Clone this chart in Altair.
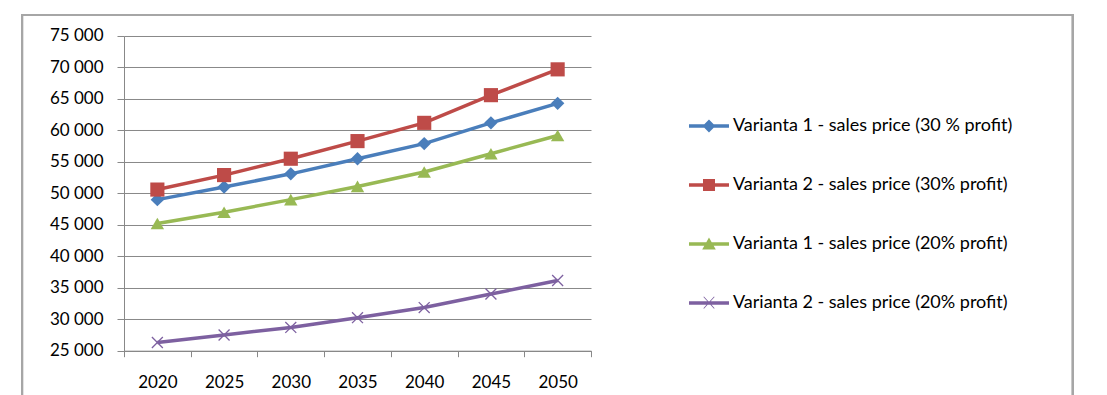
import altair as alt
import pandas as pd

years = ["2020", "2025", "2030", "2035", "2040", "2045", "2050"]
series_names = [
    "Varianta 1 - sales price (30 % profit)",
    "Varianta 2 - sales price (30% profit)",
    "Varianta 1 - sales price (20% profit)",
    "Varianta 2 - sales price (20% profit)",
]
v1_30 = [49000, 51000, 53100, 55500, 57900, 61200, 64300]
v2_30 = [50600, 52900, 55500, 58300, 61200, 65600, 69700]
v1_20 = [45200, 47000, 49000, 51100, 53400, 56300, 59200]
v2_20 = [26300, 27500, 28700, 30250, 31850, 34000, 36150]
colors = ["#4A7EBB", "#BE4B48", "#98B954", "#7D60A0"]

all_vals = [v1_30, v2_30, v1_20, v2_20]
rows = []
for name, vals in zip(series_names, all_vals):
    for y, v in zip(years, vals):
        rows.append({"series": name, "year": y, "value": v})
df = pd.DataFrame(rows)

FONT = "Lato"
color_scale = alt.Scale(domain=series_names, range=colors)

x_enc = alt.X("year:O", scale=alt.Scale(type="band", paddingInner=0, paddingOuter=0),
              axis=alt.Axis(title=None, tickBand="extent", tickSize=6, labelPadding=18,
                            labelFontSize=17, labelFont=FONT, labelColor="#000",
                            domainColor="#888", tickColor="#888", labelAngle=0, grid=False,
                            labelOverlap=False))
y_enc = alt.Y("value:Q", scale=alt.Scale(domain=[25000, 75000], nice=False),
              axis=alt.Axis(title=None, values=list(range(25000, 75001, 5000)), tickSize=7,
                            labelPadding=14, labelFontSize=17, labelFont=FONT, labelColor="#000",
                            domainColor="#888", tickColor="#888", gridColor="#888", gridWidth=1,
                            labelOverlap=False,
                            labelExpr="replace(format(datum.value, ','), ',', ' ')"))

leg = alt.Legend(title=None, orient="none", legendX=565, legendY=70,
                 symbolSize=1600, symbolOpacity=1, symbolStrokeWidth=0,
                 labelFont=FONT, labelFontSize=18, labelColor="#000",
                 labelLimit=400, rowPadding=30, labelOffset=4)
color_enc = alt.Color("series:N", scale=color_scale, legend=leg)

lines = alt.Chart(df).mark_line(strokeWidth=3.5).encode(
    x=x_enc, y=y_enc, color=color_enc)

marker_shapes = [
    "diamond",
    "square",
    "triangle-up",
    "M-1,-1L1,1M-1,1L1,-1",
]
marker_sizes = [180, 200, 180, 120]
point_layers = []
for name, shp, sz in zip(series_names, marker_shapes, marker_sizes):
    is_cross = shp.startswith("M")
    pl = alt.Chart(df).transform_filter(alt.datum.series == name).mark_point(
        shape=shp, size=sz, filled=not is_cross, opacity=1,
        strokeWidth=1.3 if is_cross else 0,
    ).encode(x=x_enc, y=y_enc, color=color_enc)
    point_layers.append(pl)

# legend symbols: line segment + marker (unit box -1..1)
bar = "M-1,-0.09H1V0.09H-1Z"
legend_paths = [
    bar + " M0,-0.32L0.32,0L0,0.32L-0.32,0Z",
    bar + " M-0.3,-0.3H0.3V0.3H-0.3Z",
    bar + " M0,-0.32L0.34,0.28H-0.34Z",
    bar + " M-0.28,-0.3L-0.25,-0.33L0,-0.05L0.25,-0.33L0.28,-0.3L0.03,-0.02L0.28,0.26L0.25,0.29L0,0.01L-0.25,0.29L-0.28,0.26L-0.03,-0.02Z",
]

legend_layer = alt.Chart(df).mark_point(filled=True, opacity=0, size=1600).encode(
    x=x_enc, y=y_enc,
    color=color_enc,
    shape=alt.Shape("series:N", scale=alt.Scale(domain=series_names, range=legend_paths),
                    legend=leg),
)

frame = alt.Chart(df).mark_rect(fill=None, stroke="#A6A6A6", strokeWidth=2).encode(
    x=alt.value(-102), x2=alt.value(949), y=alt.value(-21), y2=alt.value(400))

chart = alt.layer(frame, lines, *point_layers, legend_layer).properties(
    width=467, height=314.7,
    padding={"left": 124, "top": 36, "right": 516, "bottom": 44},
    autosize=alt.AutoSizeParams(type="none"),
    background="white",
).configure_view(stroke=None)

chart.save("out.html", embed_options={"renderer": "svg", "actions": False})
